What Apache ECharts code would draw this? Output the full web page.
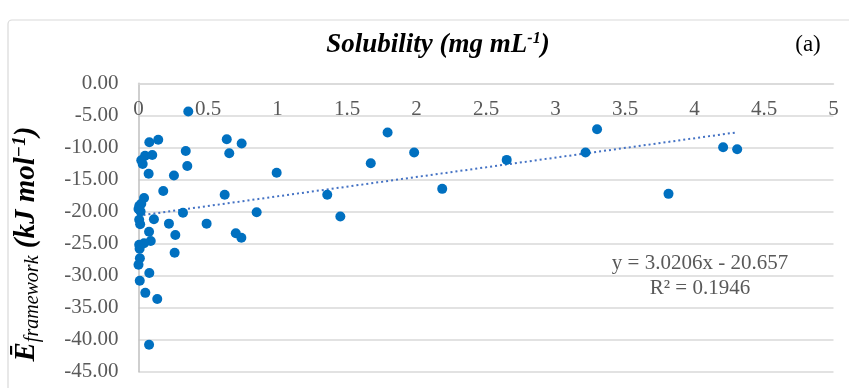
<!DOCTYPE html>
<html>
<head>
<meta charset="utf-8">
<script src="https://cdn.jsdelivr.net/npm/echarts@6/dist/echarts.min.js"></script>
<style>
html,body{margin:0;padding:0;background:#fff;}
#chart{width:849px;height:388px;}
</style>
</head>
<body>
<div id="chart"></div>
<script>
// ---- data ----
const solubility = [
  0.078, 0.142, 0.047, 0.099, 0.020, 0.030, 0.073, 0.040, 0.020, 0.006,
  0.015, 0.000, 0.005, 0.012, 0.111, 0.076, 0.088, 0.040, 0.005, 0.008,
  0.010, 0.000, 0.078, 0.009, 0.049, 0.135, 0.076, 0.178,
  0.358, 0.635, 0.742, 0.340, 0.653, 0.351, 0.255, 0.994, 0.620, 0.320,
  0.850, 0.219, 0.490, 0.265, 0.700, 0.740, 0.260,
  1.358, 1.452, 1.671, 1.792, 1.983, 2.185, 2.649, 3.216, 3.299, 3.813,
  4.206, 4.307
];
const energy = [
  -9.2, -8.8, -11.3, -11.2, -12.0, -12.6, -14.1, -17.9, -18.8, -19.1,
  -20.0, -19.6, -21.3, -22.0, -21.2, -23.15, -24.6, -24.96, -25.2, -25.8,
  -27.3, -28.3, -29.6, -30.8, -32.7, -33.65, -40.8, -16.8,
  -4.4, -8.74, -9.4, -10.56, -10.92, -12.9, -14.4, -13.95, -17.4, -20.2,
  -20.13, -21.9, -21.9, -23.67, -23.4, -24.1, -26.43,
  -17.4, -20.78, -12.47, -7.69, -10.8, -16.47, -11.95, -10.8, -7.17, -17.25,
  -9.97, -10.29
];
const xTicks = [0, 0.5, 1, 1.5, 2, 2.5, 3, 3.5, 4, 4.5, 5];
const yTicks = [0, -5, -10, -15, -20, -25, -30, -35, -40, -45];
const trendSlope = 3.0206;
const trendIntercept = -20.657;
const rSquared = 0.1946;

// ---- build ----
const points = solubility.map((x, i) => [x, energy[i]]);
const xMinData = Math.min(...solubility);
const xMaxData = Math.max(...solubility);
const trend = [
  [xMinData, trendSlope * xMinData + trendIntercept],
  [xMaxData, trendSlope * xMaxData + trendIntercept]
];

const serif = '"Liberation Serif", "Times New Roman", serif';
const gray = '#595959';
const chart = echarts.init(document.getElementById('chart'), null, {renderer: 'canvas'});

chart.setOption({
  animation: false,
  backgroundColor: '#ffffff',
  grid: {left: 138.5, right: 15.5, top: 83.3, bottom: 16.3, containLabel: false},
  xAxis: {
    type: 'value',
    position: 'top',
    min: xTicks[0],
    max: xTicks[xTicks.length - 1],
    interval: xTicks[1] - xTicks[0],
    axisLine: {show: true, onZero: false, lineStyle: {color: '#d9d9d9', width: 1.5}},
    axisTick: {show: false},
    splitLine: {show: false},
    axisLabel: {
      inside: true, margin: 16,
      color: gray, fontFamily: serif, fontSize: 21,
      formatter: v => String(v)
    }
  },
  yAxis: {
    type: 'value',
    min: yTicks[yTicks.length - 1],
    max: yTicks[0],
    interval: 5,
    axisLine: {show: true, lineStyle: {color: '#bfbfbf', width: 1.5}},
    axisTick: {show: false},
    splitLine: {show: true, lineStyle: {color: '#d9d9d9', width: 1.5}},
    axisLabel: {
      margin: 20, color: gray, fontFamily: serif, fontSize: 21,
      formatter: v => v.toFixed(2)
    }
  },
  series: [
    {
      type: 'line',
      data: trend,
      symbol: 'none',
      lineStyle: {color: '#4472C4', width: 2, type: [2, 3]},
      z: 1
    },
    {
      type: 'scatter',
      data: points,
      symbolSize: 10,
      itemStyle: {color: '#0070C0', opacity: 1},
      z: 2
    }
  ],
  graphic: [
    {
      type: 'rect', silent: true, z: -10,
      shape: {x: 8, y: 20, width: 900, height: 400, r: 4},
      style: {fill: 'none', stroke: '#d9d9d9', lineWidth: 1.2}
    },
    {
      type: 'text', x: 438, y: 45,
      style: {
        text: '{t|Solubility (mg mL}{s|-1}{t|)}',
        align: 'center', verticalAlign: 'middle',
        rich: {
          t: {fontFamily: serif, fontSize: 27, fontStyle: 'italic', fontWeight: 'bold', fill: '#000'},
          s: {fontFamily: serif, fontSize: 16, fontStyle: 'italic', fontWeight: 'bold', fill: '#000', padding: [0, 0, 12, 0]}
        }
      }
    },
    {
      type: 'text', x: 808, y: 45,
      style: {text: '(a)', align: 'center', verticalAlign: 'middle', fontFamily: serif, fontSize: 23, fill: '#000'}
    },
    {
      type: 'text', x: 27, y: 244, rotation: Math.PI / 2,
      style: {
        text: '{e|Ē}{sub|framework}{t| (kJ mol}{sup|−1}{t|)}',
        align: 'center', verticalAlign: 'middle',
        rich: {
          e: {fontFamily: serif, fontSize: 29, fontStyle: 'italic', fontWeight: 'bold', fill: '#000'},
          sub: {fontFamily: serif, fontSize: 20, fontStyle: 'italic', fill: '#000', padding: [12, 0, 0, 0]},
          t: {fontFamily: serif, fontSize: 29, fontStyle: 'italic', fontWeight: 'bold', fill: '#000'},
          sup: {fontFamily: serif, fontSize: 19, fontStyle: 'italic', fontWeight: 'bold', fill: '#000', padding: [0, 0, 14, 0]}
        }
      }
    },
    {
      type: 'text', x: 700, y: 263,
      style: {
        text: 'y = ' + trendSlope.toFixed(4) + 'x - ' + Math.abs(trendIntercept).toFixed(3),
        align: 'center', verticalAlign: 'middle', fontFamily: serif, fontSize: 21, fill: gray
      }
    },
    {
      type: 'text', x: 700, y: 288,
      style: {
        text: 'R² = ' + rSquared.toFixed(4),
        align: 'center', verticalAlign: 'middle', fontFamily: serif, fontSize: 21, fill: gray
      }
    }
  ]
});
</script>
</body>
</html>
